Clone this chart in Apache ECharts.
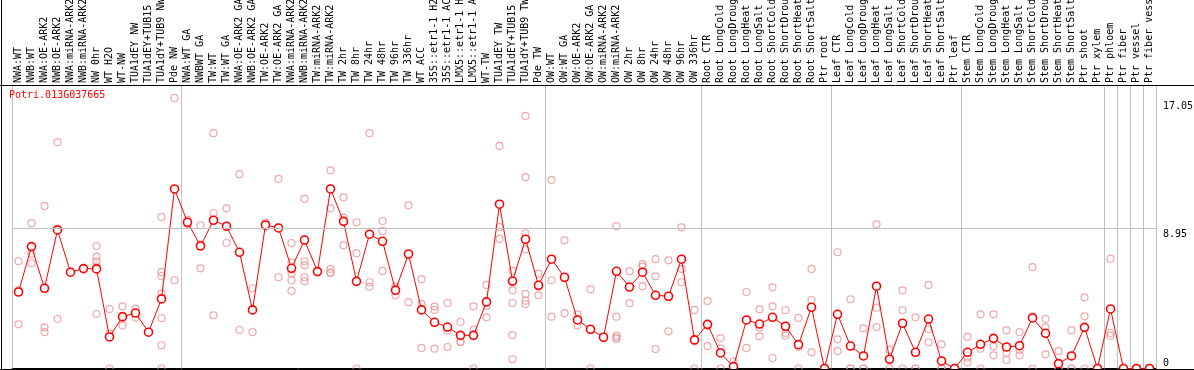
<!DOCTYPE html>
<html>
<head>
<meta charset="utf-8">
<script src="https://cdn.jsdelivr.net/npm/echarts@6/dist/echarts.min.js"></script>
<style>
html,body{margin:0;padding:0;background:#fff;}
#chart{width:1194px;height:370px;}
</style>
</head>
<body>
<div id="chart"></div>
<script>
var categories = [
  "NWA:WT","NWB:WT","NWA:OE-ARK2","NWB:OE-ARK2","NWA:miRNA-ARK2","NWB:miRNA-ARK2","NW 0hr","WT H2O","WT-NW","TUA1dEY NW","TUA1dEY+TUB15","TUA1dY+TUB9 NW","Pde NW",
  "NWA:WT GA","NWBWT GA","TW:WT","TW:WT GA","NWA:OE-ARK2 GA","NWB:OE-ARK2 GA","TW:OE-ARK2","TW:OE-ARK2 GA","NWA:miRNA-ARK2","NWB:miRNA-ARK2","TW:miRNA-ARK2","TW:miRNA-ARK2","TW 2hr","TW 8hr","TW 24hr","TW 48hr","TW 96hr","TW 336hr","WT ACC","35S::etr1-1 H2","35S::etr1-1 AC","LMX5::etr1-1 H","LMX5::etr1-1 A","WT-TW","TUA1dEY TW","TUA1dEY+TUB15","TUA1dY+TUB9 TW","Pde TW",
  "OW:WT","OW:WT GA","OW:OE-ARK2","OW:OE-ARK2 GA","OW:miRNA-ARK2","OW:miRNA-ARK2","OW 2hr","OW 8hr","OW 24hr","OW 48hr","OW 96hr","OW 336hr",
  "Root CTR","Root LongCold","Root LongDroug","Root LongHeat","Root LongSalt","Root ShortCold","Root ShortDrou","Root ShortHeat","Root ShortSalt","Ptr root",
  "Leaf CTR","Leaf LongCold","Leaf LongDroug","Leaf LongHeat","Leaf LongSalt","Leaf ShortCold","Leaf ShortDrou","Leaf ShortHeat","Leaf ShortSalt","Ptr leaf",
  "Stem CTR","Stem LongCold","Stem LongDroug","Stem LongHeat","Stem LongSalt","Stem ShortCold","Stem ShortDrou","Stem ShortHeat","Stem ShortSalt","Ptr shoot","Ptr xylem",
  "Ptr phloem","Ptr fiber","Ptr vessel","Ptr fiber vess"
];

var means = [
  4.87,7.76,5.11,8.82,6.13,6.36,6.34,2.01,3.30,3.53,2.31,4.43,11.43,
  9.31,7.80,9.44,9.06,7.40,3.73,9.14,8.95,6.38,8.18,6.17,11.43,9.37,5.55,8.55,8.10,4.98,7.29,3.73,2.94,2.64,2.11,2.11,4.24,10.46,5.57,8.23,5.30,
  6.96,5.81,3.09,2.50,1.99,6.19,5.19,6.13,4.66,4.60,6.96,1.82,
  2.81,0.99,0.12,3.09,2.83,3.26,2.69,1.52,3.90,0,
  3.45,1.43,0.80,5.24,0.59,2.88,1.03,3.15,0.48,0,
  1.03,1.54,1.92,1.37,1.45,3.22,2.24,0.31,0.80,2.62,0,
  3.79,0,0,0
];

var replicates = [
  [6.83,2.81,4.97],[9.25,6.70,7.30],[10.35,2.62,2.31],[14.41,3.15,8.9],[7.99,5.62,4.94],[6.83,6.57,5.81],
  [7.80,7.12,6.80,6.50,3.47],[3.79,2.24,0],[3.96,2.73,3.2],[3.81,3.24,3.55],[4.17,0.59,2.13],
  [9.65,6.13,5.89,4.77,3.20,1.48,0],[17.23,5.62],
  [9.46,9.2,9.28],[9.12,6.38,7.9],[14.98,9.90,3.39],[10.20,7.99,9.0],[12.37,2.45,7.38],[5.11,2.31,3.77],
  [9.29,9.1,9.03],[12.07,5.81,8.97],[6.76,6.06,6.3],[10.80,5.55,8.2],[6.34,6.1,6.08],[12.62,10.20,11.47],
  [10.90,9.61,7.85],[9.31,7.34,0],[14.98,5.49,5.21],[9.39,8.76,6.21],[5.21,4.66,5.07],[10.39,4.22],
  [5.68,4.11,1.31],[3.94,3.73,1.26],[4.17,2.41,1.37],[2.96,1.69,1.7],[3.96,2.47,0],[5.32,3.98,3.26],
  [14.17,9.01,8.25],[6.21,4.98,5.5],[16.08,12.18,8.61,7.59,4.75,4.32,4.1],[6.04,4.66,5.2],
  [12.01,5.62,3.30],[8.16,3.53,5.74],[3.45,2.73,3.1],[5.04,0,2.45],[2.1,1.88,1.99],[9.06,3.30,6.2],
  [6.19,4.15,5.2],[6.64,6.48,5.24],[6.96,5.87,1.24],[6.89,2.37,4.54],[8.99,6.34,5.49],[3.73,0,1.73],
  [4.30,1.43,2.7],[1.94,1.26,0],[0.44,0,0],[4.87,1.31,3.1],[3.77,2.60,2.05],[5.17,3.96,0.67],
  [3.71,2.09,2.27],[3.22,1.39,0],[6.34,4.36,1.03],[0,0,0],
  [7.40,1.86,1.11],[4.41,0,0],[2.56,0,0],[9.18,3.87,2.64],[1.18,0,0.6],[4.98,3.71,0],
  [3.26,0,0],[5.32,2.50,1.67],[1.54,0,0],[0,0,0],
  [2.01,0.39,0.7],[3.45,1.26,0],[3.45,1.41,0.84],[2.43,1.01,0.54],[2.32,0.84,1.2],[6.45,3.32,0],
  [3.15,2.62,0.90],[1.11,0,0],[2.43,0,0],[4.53,3.32,0],[0,0,0],
  [6.99,2.09,2.26],[0,0,0],[0,0,0],[0,0,0]
];

var groupStarts = [0,13,41,53,63,73,84,85,86,87];
var yTickValues = [0, 8.95, 17.05];
var gridLineValue = 8.95;
var geneTitle = "Potri.013G037665";

var scatterData = [];
replicates.forEach(function (reps, i) {
  reps.forEach(function (v) { scatterData.push([categories[i], v]); });
});

var mono = "DejaVu Sans Mono";
function isSep(idx) { return groupStarts.indexOf(idx) >= 0; }

var chart = echarts.init(document.getElementById('chart'), null, {renderer: 'canvas'});
chart.setOption({
  animation: false,
  backgroundColor: '#ffffff',
  title: {
    text: geneTitle, left: 9, top: 90, padding: 0,
    textStyle: {color: '#ff0000', fontFamily: mono, fontSize: 10, fontWeight: 'normal'}
  },
  grid: {left: 12, right: 38, top: 85, bottom: 1.5, outerBoundsMode: 'none', containLabel: false},
  xAxis: {
    type: 'category', data: categories, position: 'top', boundaryGap: true,
    axisLine: {show: true, lineStyle: {color: '#000', width: 1}},
    axisTick: {show: true, interval: isSep, length: 85, lineStyle: {color: '#c0c0c0', width: 1}},
    splitLine: {show: true, interval: isSep, lineStyle: {color: '#c0c0c0', width: 1}},
    axisLabel: {interval: 0, rotate: 90, margin: 2, fontFamily: mono, fontSize: 10, color: '#000', hideOverlap: false}
  },
  yAxis: {
    type: 'value', min: 0, max: 18.05, position: 'right',
    axisLine: {show: false}, axisTick: {show: false}, splitLine: {show: false},
    axisLabel: {
      customValues: yTickValues, margin: 7, align: 'left', verticalAlign: 'middle',
      fontFamily: mono, fontSize: 10, color: '#000',
      formatter: function (v) { return v === 0 ? '{b|0}' : '{t|' + v + '}'; },
      rich: {
        t: {padding: [12, 0, 0, 0], fontFamily: mono, fontSize: 10, color: '#000'},
        b: {padding: [0, 0, 11, 0], fontFamily: mono, fontSize: 10, color: '#000'}
      }
    }
  },
  graphic: [
    {type: 'line', shape: {x1: 1.5, y1: 0, x2: 1.5, y2: 370}, style: {stroke: '#000', lineWidth: 1}, z: 100},
    {type: 'line', shape: {x1: 0, y1: 85.5, x2: 1194, y2: 85.5}, style: {stroke: '#000', lineWidth: 1}, z: 100},
    {type: 'line', shape: {x1: 0, y1: 369.5, x2: 1194, y2: 369.5}, style: {stroke: '#000', lineWidth: 1}, z: 100}
  ],
  series: [
    {
      type: 'scatter', data: scatterData, clip: false, silent: true,
      symbol: 'circle', symbolSize: 7,
      itemStyle: {color: 'rgba(0,0,0,0)', borderColor: '#e89494', borderWidth: 1.2},
      markLine: {
        silent: true, symbol: ['none', 'none'], label: {show: false},
        lineStyle: {color: '#c0c0c0', type: 'solid', width: 1},
        data: [{yAxis: gridLineValue}]
      },
      z: 2
    },
    {
      type: 'line', data: means, clip: false, silent: true,
      symbol: 'circle', symbolSize: 8, showAllSymbol: true,
      lineStyle: {color: '#ff0000', width: 1},
      itemStyle: {color: '#ffffff', borderColor: '#ff0000', borderWidth: 1.6},
      z: 3
    }
  ]
});
</script>
</body>
</html>
